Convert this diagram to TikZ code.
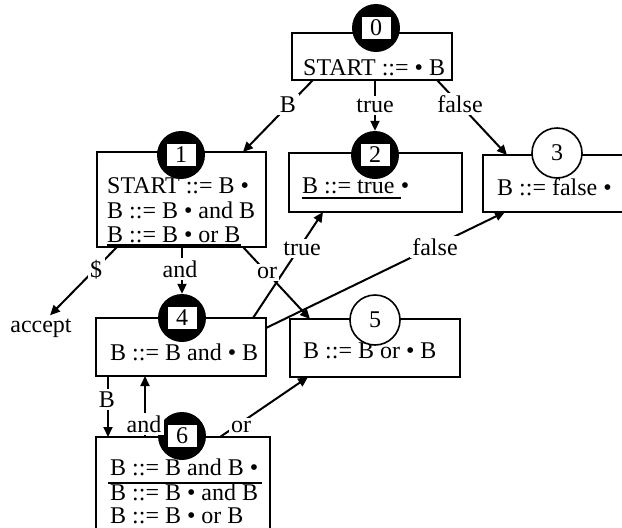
\documentclass[tikz,border=0pt]{standalone}
\usepackage{fontspec}
\setmainfont{Liberation Serif}
\usetikzlibrary{arrows.meta}
\begin{document}
\begin{tikzpicture}[x=1pt,y=-1pt,
  statebox/.style={draw, line width=1.6pt, rectangle, inner sep=0pt, outer sep=0pt, anchor=north west},
  openbox/.style={rectangle, inner sep=0pt, outer sep=0pt, anchor=north west},
  txt/.style={inner sep=0pt, anchor=base west, font=\fontsize{24}{25}\selectfont},
  lbl/.style={fill=white, inner sep=2.5pt, anchor=base, font=\fontsize{24}{25}\selectfont},
  disc/.style={circle, fill=black, minimum size=48pt, inner sep=0pt},
  numbox/.style={fill=white, minimum width=29pt, minimum height=22pt, inner sep=0pt, font=\fontsize{24}{25}\selectfont},
  ring/.style={circle, draw, fill=white, line width=1.6pt, minimum size=50pt, inner sep=0pt, font=\fontsize{24}{25}\selectfont},
  conn/.style={line width=2pt, -{Triangle[length=10pt,width=9pt]}},
  uline/.style={line width=1.3pt},
  openline/.style={line width=1.6pt},
]
\fill[white] (0,0) rectangle (622,528);
\useasboundingbox (0,0) rectangle (622,528);

% boxes
\node[statebox, minimum width=160pt, minimum height=47pt] (b0) at (292,33) {};
\node[statebox, minimum width=169pt, minimum height=95pt] (b1) at (97,152) {};
\node[statebox, minimum width=173pt, minimum height=59pt] (b2) at (289,153) {};
\node[openbox, minimum width=139pt, minimum height=57pt] (b3) at (483,155) {};
\draw[openline] (b3.north east) -- (b3.north west) -- (b3.south west) -- (b3.south east);
\node[statebox, minimum width=170pt, minimum height=58pt] (b4) at (96,318) {};
\node[statebox, minimum width=170pt, minimum height=58pt] (b5) at (290,319) {};
\node[openbox, minimum width=174pt, minimum height=91pt] (b6) at (96,437) {};
\draw[openline] (b6.south west) -- (b6.north west) -- (b6.north east) -- (b6.south east);

% texts
\node[txt] (t0) at (303,75) {START ::= • B};
\node[txt] (t1a) at (107,193) {START ::= B •};
\node[txt] (t1b) at (107,218) {B ::= B • and B};
\node[txt] (t1c) at (107,242) {B ::= B • or B};
\node[txt] (t2) at (302,193) {B ::= true};
\node[txt] (t2d) at (t2.base east) {\ •};
\node[txt] (t3) at (497,195) {B ::= false •};
\node[txt] (t4) at (110,360) {B ::= B and • B};
\node[txt] (t5) at (303,358) {B ::= B or • B};
\node[txt] (t6a) at (110,475) {B ::= B and B •};
\node[txt] (t6b) at (110,500) {B ::= B • and B};
\node[txt] (t6c) at (110,523) {B ::= B • or B};

% underlines
\draw[uline] ([yshift=-3pt]t1c.base west) -- ([yshift=-3pt]t1c.base east);
\draw[uline] ([yshift=-5pt]t2.base west) -- ([xshift=6pt,yshift=-5pt]t2.base east);
\draw[uline] ([xshift=-2pt,yshift=-8pt]t6a.base west) -- ([xshift=4pt,yshift=-8pt]t6a.base east);

% state circles
\node[disc] (c0) at (376,28) {};
\node[numbox] (n0) at (c0) {0};
\node[disc] (c1) at (181,155) {};
\node[numbox] (n1) at (c1) {1};
\node[disc] (c2) at (375,155) {};
\node[numbox] (n2) at (c2) {2};
\node[ring] (c3) at (557,153) {3};
\node[disc] (c4) at (182,318) {};
\node[numbox] (n4) at (c4) {4};
\node[ring] (c5) at (375,320) {5};
\node[disc] (c6) at (182,436) {};
\node[numbox] (n6) at (c6) {6};

% accept
\node[font=\fontsize{24}{25}\selectfont, inner sep=0pt, anchor=base] (acc) at (41,332) {accept};

% edges
\draw[conn] ([xshift=21pt]b0.south west) -- ([xshift=-23pt]b1.north east);
\draw[conn] ([xshift=83pt]b0.south west) -- (c2.north);
\draw[conn] ([xshift=145pt]b0.south west) -- ([xshift=24pt]b3.north west);
\draw[conn] ([xshift=20pt]b1.south west) -- ([xshift=9pt,yshift=3pt]acc.north);
\draw[conn] ([xshift=85pt]b1.south west) -- (c4.north);
\draw[conn] ([xshift=-23pt]b1.south east) -- ([xshift=20pt]b5.north west);
\draw[conn] ([xshift=-13pt]b4.north east) -- ([xshift=34pt]b2.south west);
\draw[conn] ([yshift=-10pt]b4.north east) -- ([xshift=22pt]b3.south west);
\draw[conn] ([xshift=12pt]b4.south west) -- ([xshift=12pt]b6.north west);
\draw[conn] ([xshift=49pt]b6.north west) -- ([xshift=49pt]b4.south west);
\draw[conn] ([xshift=124pt]b6.north west) -- ([xshift=18pt]b5.south west);

% edge labels
\node[lbl] (lB0) at (288,112) {B};
\node[lbl] (ltrue0) at (375,112) {true};
\node[lbl] (lfalse0) at (460,112) {false};
\node[lbl] (ldollar) at (96,277) {\$};
\node[lbl] (land1) at (180,277) {and};
\node[lbl] (lor1) at (267,278) {or};
\node[lbl] (ltrue4) at (302,255) {true};
\node[lbl] (lfalse4) at (435,255) {false};
\node[lbl] (lB4) at (107,407) {B};
\node[lbl] (land6) at (144,432) {and};
\node[lbl] (lor6) at (241,432) {or};
\end{tikzpicture}
\end{document}
